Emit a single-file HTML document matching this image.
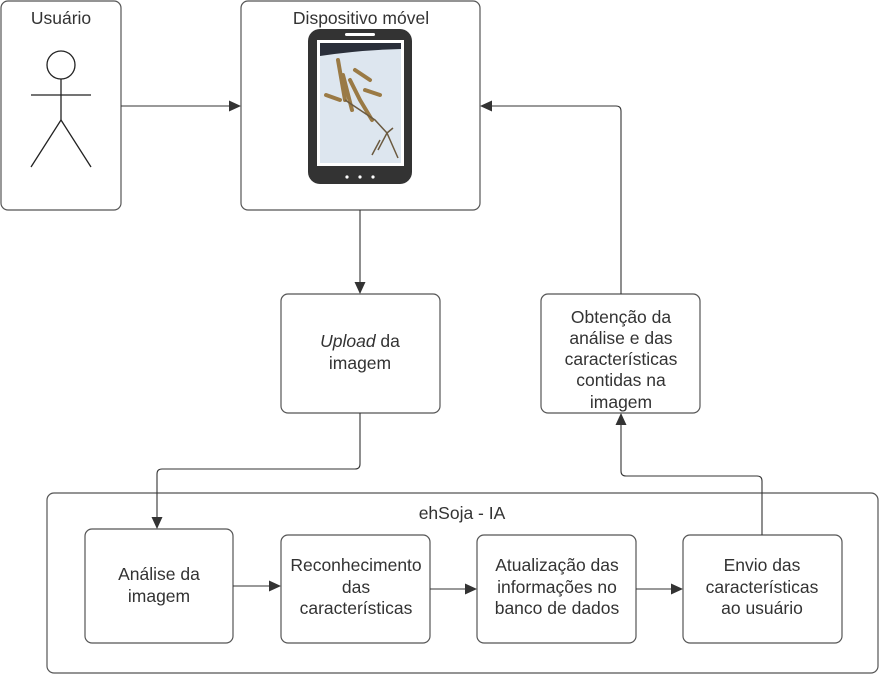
<!DOCTYPE html>
<html><head><meta charset="utf-8"><style>
html,body{margin:0;padding:0;background:#fff;}
svg{display:block;font-family:"Liberation Sans",sans-serif;}
text{font-size:17.5px;fill:#333;text-anchor:middle;}
</style></head><body>
<svg width="881" height="674" viewBox="0 0 881 674" xmlns="http://www.w3.org/2000/svg">
<defs>
<marker id="a" markerWidth="12" markerHeight="12" refX="11" refY="5.5" orient="auto" markerUnits="userSpaceOnUse">
<path d="M0,0 L12,5.5 L0,11 z" fill="#333"/></marker>
</defs>
<g fill="#fff" stroke="#555" stroke-width="1.2">
<rect x="1" y="1" width="120" height="209" rx="7"/>
<rect x="241" y="1" width="239" height="209" rx="7"/>
<rect x="281" y="294" width="159" height="119" rx="7"/>
<rect x="541" y="294" width="159" height="119" rx="7"/>
<rect x="47" y="493" width="831" height="180" rx="7"/>
<rect x="85" y="529" width="148" height="114" rx="7"/>
<rect x="281" y="535" width="149" height="108" rx="7"/>
<rect x="477" y="535" width="159" height="108" rx="7"/>
<rect x="683" y="535" width="159" height="108" rx="7"/>
</g>
<g stroke="#222" stroke-width="1.3" fill="none">
<circle cx="61" cy="65" r="14"/>
<line x1="61" y1="79" x2="61" y2="120"/>
<line x1="31" y1="95" x2="91" y2="95"/>
<polyline points="31,167 61,120 91,167"/>
</g>
<rect x="308" y="29" width="104" height="155" rx="12" fill="#333"/>
<rect x="345" y="33" width="30" height="3" rx="1.5" fill="#fff"/>
<rect x="317" y="40" width="87" height="126" fill="#fff"/>
<rect x="320" y="43" width="81" height="120" fill="#dde6ef"/>
<path d="M320,43 L401,43 L401,49 Q360,50 320,56 z" fill="#2a2f3a"/>
<g stroke="#9a7a45" stroke-width="4" stroke-linecap="round" fill="none">
<path d="M338,60 L345,100 M343,75 L352,110 M350,80 L360,100 M326,95 L340,100 M355,70 L370,80 M365,90 L380,95 M360,100 L372,120"/>
</g>
<g stroke="#6b5a40" stroke-width="1.5" fill="none">
<path d="M345,100 L375,120 L387,133 M387,133 L378,150 M387,133 L398,158 M387,133 L393,128 M380,140 L372,155"/>
</g>
<circle cx="347" cy="177" r="1.6" fill="#fff"/><circle cx="360" cy="177" r="1.6" fill="#fff"/><circle cx="373" cy="177" r="1.6" fill="#fff"/>
<g stroke="#333" stroke-width="1.1" fill="none">
<line x1="121" y1="106" x2="240" y2="106" marker-end="url(#a)"/>
<line x1="360" y1="210" x2="360" y2="293" marker-end="url(#a)"/>
<path d="M360,413 L360,464 Q360,469 355,469 L162,469 Q157,469 157,474 L157,528" marker-end="url(#a)"/>
<line x1="233" y1="586" x2="280" y2="586" marker-end="url(#a)"/>
<line x1="430" y1="589" x2="476" y2="589" marker-end="url(#a)"/>
<line x1="636" y1="589" x2="682" y2="589" marker-end="url(#a)"/>
<path d="M762,535 L762,481 Q762,476 757,476 L626,476 Q621,476 621,471 L621,414" marker-end="url(#a)"/>
<path d="M621,294 L621,111 Q621,106 616,106 L481,106" marker-end="url(#a)"/>
</g>
<text x="61" y="24">Usuário</text>
<text x="361" y="24">Dispositivo móvel</text>
<text x="360" y="347"><tspan font-style="italic">Upload</tspan> da</text>
<text x="360" y="369">imagem</text>
<text x="621" y="323">Obtenção da</text>
<text x="621" y="344">análise e das</text>
<text x="621" y="365">características</text>
<text x="621" y="386">contidas na</text>
<text x="621" y="408">imagem</text>
<text x="462" y="519">ehSoja - IA</text>
<text x="159" y="580">Análise da</text>
<text x="159" y="602">imagem</text>
<text x="356" y="571">Reconhecimento</text>
<text x="356" y="593">das</text>
<text x="356" y="614">características</text>
<text x="557" y="571">Atualização das</text>
<text x="557" y="593">informações no</text>
<text x="557" y="614">banco de dados</text>
<text x="762" y="571">Envio das</text>
<text x="762" y="593">características</text>
<text x="762" y="614">ao usuário</text>
</svg>
</body></html>
